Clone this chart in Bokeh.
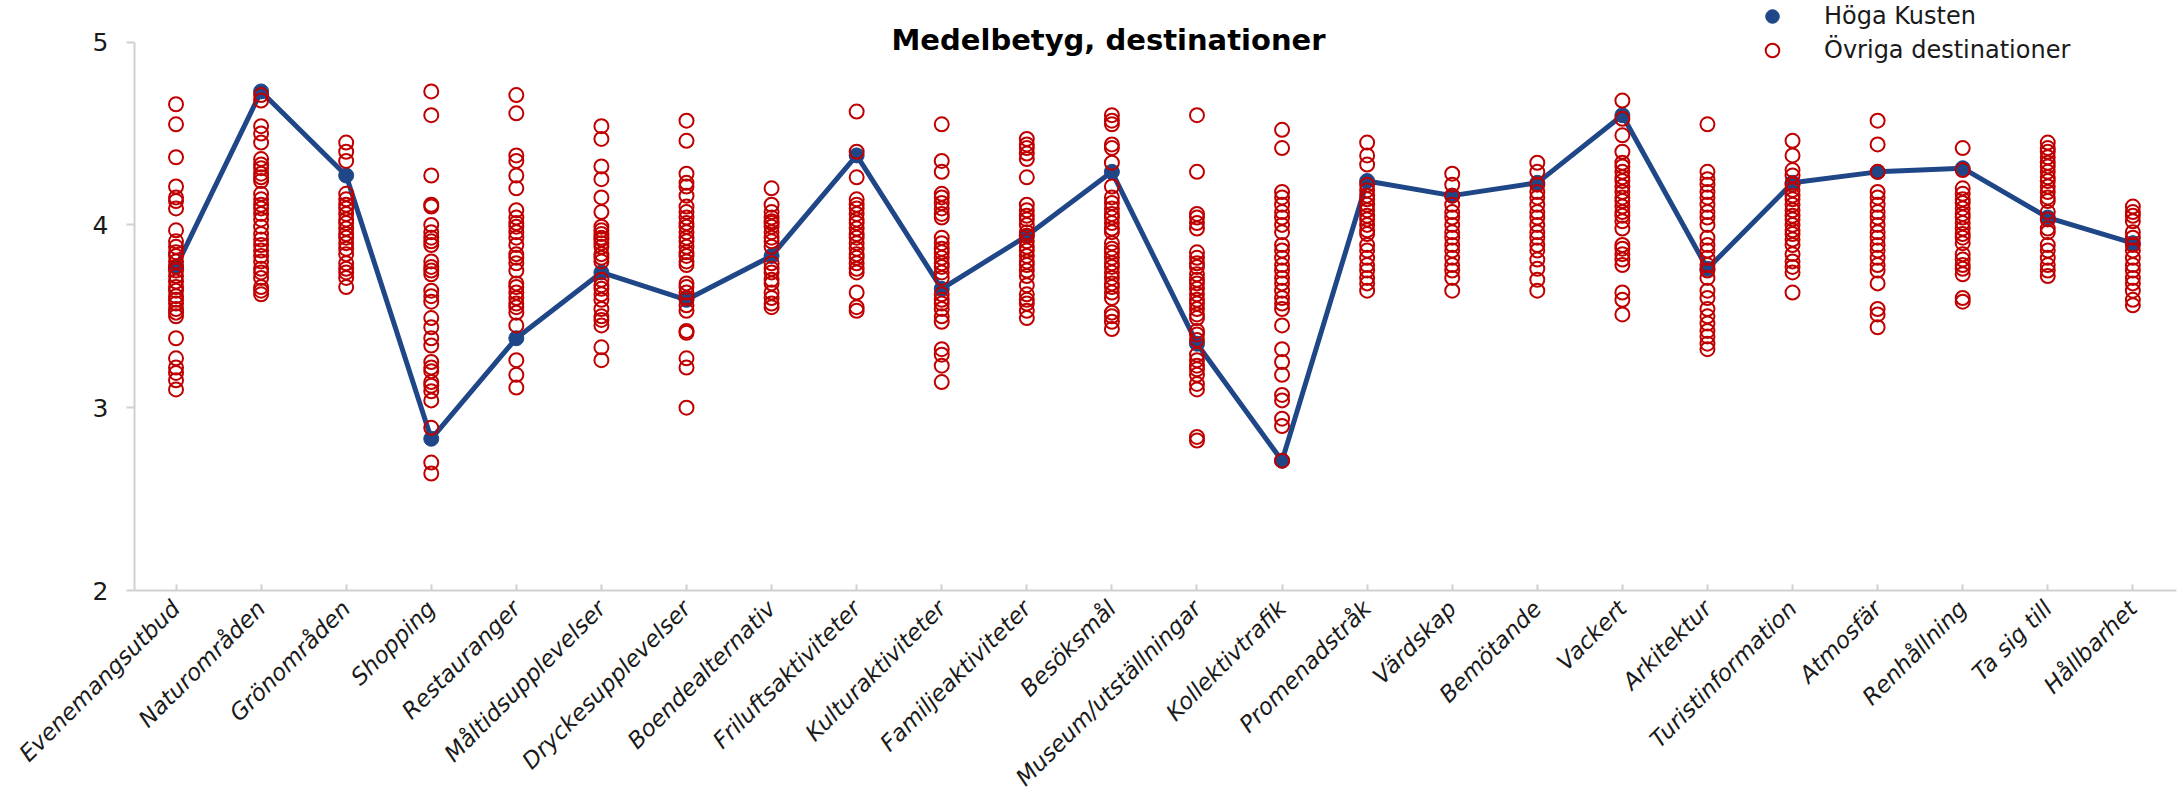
import math
from bokeh.plotting import figure
from bokeh.models import Range1d, FixedTicker, Legend, LegendItem, Label
from bokeh.embed import file_html
from bokeh.resources import INLINE

categories = ["Evenemangsutbud", "Naturområden", "Grönområden", "Shopping", "Restauranger",
              "Måltidsupplevelser", "Dryckesupplevelser", "Boendealternativ", "Friluftsaktiviteter",
              "Kulturaktiviteter", "Familjeaktiviteter", "Besöksmål", "Museum/utställningar",
              "Kollektivtrafik", "Promenadstråk", "Värdskap", "Bemötande", "Vackert", "Arkitektur",
              "Turistinformation", "Atmosfär", "Renhållning", "Ta sig till", "Hållbarhet"]

hoga_kusten = [3.77, 4.73, 4.27, 2.83, 3.38, 3.74, 3.59, 3.83, 4.38, 3.65, 3.94, 4.29,
               3.35, 2.71, 4.24, 4.16, 4.23, 4.60, 3.76, 4.23, 4.29, 4.31, 4.04, 3.90]

ovr_evenemang = [4.66, 4.55, 4.37, 4.21, 4.15, 4.13, 4.09, 3.97, 3.91, 3.88, 3.85, 3.83, 3.80, 3.77, 3.75, 3.72,
                 3.69, 3.66, 3.64, 3.61, 3.59, 3.57, 3.54, 3.52, 3.50, 3.38, 3.27, 3.22, 3.19, 3.15, 3.10]
ovr_natur = [4.71, 4.68, 4.54, 4.50, 4.45, 4.36, 4.33, 4.31, 4.28, 4.26, 4.24, 4.17, 4.14, 4.11, 4.09, 4.06,
             4.03, 3.99, 3.95, 3.92, 3.89, 3.86, 3.83, 3.80, 3.76, 3.74, 3.71, 3.66, 3.64, 3.62]
ovr_gron = [4.45, 4.40, 4.35, 4.17, 4.14, 4.11, 4.09, 4.06, 4.03, 4.01, 3.98, 3.95, 3.93, 3.90, 3.87, 3.84,
            3.79, 3.76, 3.74, 3.71, 3.66]
ovr_shopping = [4.73, 4.60, 4.27, 4.11, 4.10, 4.00, 3.96, 3.93, 3.91, 3.89, 3.80, 3.77, 3.75, 3.73, 3.64, 3.61,
                3.58, 3.49, 3.44, 3.38, 3.34, 3.25, 3.22, 3.20, 3.14, 3.12, 3.09, 3.04, 2.89, 2.70, 2.64]
ovr_restauranger = [4.71, 4.61, 4.38, 4.35, 4.27, 4.20, 4.08, 4.04, 4.01, 3.99, 3.96, 3.93, 3.89, 3.84, 3.82,
                    3.79, 3.75, 3.68, 3.66, 3.63, 3.60, 3.57, 3.55, 3.52, 3.45, 3.26, 3.18, 3.11]
ovr_maltid = [4.54, 4.47, 4.32, 4.25, 4.15, 4.07, 3.99, 3.97, 3.95, 3.93, 3.92, 3.90, 3.88, 3.84, 3.82, 3.80,
              3.70, 3.67, 3.65, 3.62, 3.59, 3.54, 3.50, 3.48, 3.45, 3.33, 3.26]
ovr_dryck = [4.57, 4.46, 4.28, 4.23, 4.21, 4.16, 4.10, 4.07, 4.04, 4.01, 3.99, 3.96, 3.93, 3.91, 3.88, 3.85,
             3.83, 3.80, 3.78, 3.68, 3.66, 3.63, 3.60, 3.56, 3.53, 3.42, 3.41, 3.27, 3.22, 3.00]
ovr_boende = [4.20, 4.11, 4.07, 4.04, 4.02, 4.01, 3.99, 3.96, 3.93, 3.91, 3.88, 3.79, 3.76, 3.74, 3.70, 3.68,
              3.63, 3.60, 3.57, 3.55]
ovr_frilufts = [4.62, 4.40, 4.26, 4.14, 4.11, 4.09, 4.06, 4.03, 4.01, 3.98, 3.95, 3.93, 3.90, 3.87, 3.84,
                3.82, 3.79, 3.76, 3.74, 3.63, 3.55, 3.53]
ovr_kultur = [4.55, 4.35, 4.29, 4.17, 4.15, 4.12, 4.09, 4.06, 4.04, 3.93, 3.90, 3.87, 3.85, 3.82, 3.79, 3.77,
              3.74, 3.71, 3.62, 3.59, 3.57, 3.54, 3.50, 3.47, 3.32, 3.29, 3.23, 3.14]
ovr_familj = [4.47, 4.44, 4.42, 4.39, 4.36, 4.26, 4.11, 4.08, 4.05, 4.03, 4.00, 3.96, 3.94, 3.91, 3.88, 3.86,
              3.83, 3.80, 3.78, 3.75, 3.72, 3.67, 3.62, 3.59, 3.57, 3.53, 3.49]
ovr_besoksmal = [4.60, 4.57, 4.55, 4.44, 4.42, 4.34, 4.21, 4.15, 4.12, 4.09, 4.06, 4.04, 4.01, 3.98, 3.96,
                 3.90, 3.87, 3.85, 3.82, 3.79, 3.77, 3.74, 3.71, 3.68, 3.66, 3.63, 3.60, 3.52, 3.50, 3.47, 3.43]
ovr_museum = [4.60, 4.29, 4.06, 4.04, 4.01, 3.98, 3.85, 3.82, 3.79, 3.77, 3.73, 3.70, 3.68, 3.65, 3.62, 3.59,
              3.57, 3.54, 3.51, 3.49, 3.42, 3.40, 3.37, 3.29, 3.26, 3.23, 3.21, 3.18, 3.13, 3.10, 2.84, 2.82]
ovr_kollektiv = [4.52, 4.42, 4.18, 4.15, 4.11, 4.07, 4.04, 4.00, 3.96, 3.89, 3.86, 3.82, 3.78, 3.75, 3.71,
                 3.68, 3.64, 3.60, 3.57, 3.54, 3.45, 3.32, 3.25, 3.18, 3.07, 3.04, 2.94, 2.90, 2.71]
ovr_promenad = [4.45, 4.38, 4.33, 4.22, 4.19, 4.16, 4.14, 4.11, 4.08, 4.05, 4.03, 4.00, 3.97, 3.95, 3.89,
                3.86, 3.82, 3.78, 3.75, 3.71, 3.68, 3.64]
ovr_vardskap = [4.28, 4.22, 4.16, 4.11, 4.07, 4.04, 4.00, 3.96, 3.93, 3.89, 3.86, 3.82, 3.78, 3.75, 3.71, 3.64]
ovr_bemotande = [4.34, 4.29, 4.22, 4.18, 4.15, 4.11, 4.07, 4.04, 4.00, 3.96, 3.93, 3.89, 3.86, 3.81, 3.76,
                 3.70, 3.64]
ovr_vackert = [4.68, 4.58, 4.49, 4.40, 4.34, 4.32, 4.29, 4.26, 4.24, 4.21, 4.18, 4.15, 4.13, 4.10, 4.07, 4.05,
               4.02, 3.98, 3.89, 3.87, 3.84, 3.81, 3.78, 3.63, 3.59, 3.51]
ovr_arkitektur = [4.55, 4.29, 4.25, 4.22, 4.18, 4.15, 4.11, 4.07, 4.04, 4.00, 3.93, 3.89, 3.86, 3.82, 3.78,
                  3.75, 3.71, 3.64, 3.60, 3.54, 3.50, 3.46, 3.42, 3.39, 3.35, 3.32]
ovr_turist = [4.46, 4.38, 4.30, 4.27, 4.22, 4.19, 4.16, 4.14, 4.11, 4.08, 4.05, 4.03, 4.00, 3.97, 3.95, 3.92,
              3.89, 3.84, 3.80, 3.77, 3.74, 3.63]
ovr_atmosfar = [4.57, 4.44, 4.29, 4.18, 4.15, 4.11, 4.07, 4.04, 4.00, 3.96, 3.93, 3.89, 3.86, 3.82, 3.78,
                3.75, 3.68, 3.54, 3.51, 3.44]
ovr_renhallning = [4.42, 4.30, 4.20, 4.17, 4.14, 4.12, 4.09, 4.06, 4.04, 4.01, 3.98, 3.95, 3.93, 3.90, 3.84,
                   3.81, 3.78, 3.76, 3.73, 3.60, 3.58]
ovr_tasigtill = [4.45, 4.42, 4.40, 4.37, 4.34, 4.32, 4.29, 4.26, 4.24, 4.21, 4.18, 4.15, 4.13, 4.07, 4.03,
                 3.98, 3.96, 3.89, 3.86, 3.82, 3.78, 3.75, 3.72]
ovr_hallbarhet = [4.10, 4.07, 4.05, 4.02, 3.96, 3.93, 3.89, 3.86, 3.82, 3.78, 3.75, 3.71, 3.68, 3.64, 3.59, 3.56]

ovriga = [ovr_evenemang, ovr_natur, ovr_gron, ovr_shopping, ovr_restauranger, ovr_maltid, ovr_dryck,
          ovr_boende, ovr_frilufts, ovr_kultur, ovr_familj, ovr_besoksmal, ovr_museum, ovr_kollektiv,
          ovr_promenad, ovr_vardskap, ovr_bemotande, ovr_vackert, ovr_arkitektur, ovr_turist,
          ovr_atmosfar, ovr_renhallning, ovr_tasigtill, ovr_hallbarhet]

y_ticks = [2, 3, 4, 5]

BLUE = "#1F4788"
RED = "#C00000"
AXIS_GREY = "#D0D0D0"
FONT = "DejaVu Sans"

x_idx = list(range(len(categories)))
ox, oy = [], []
for i, vals in enumerate(ovriga):
    ox.extend([i] * len(vals))
    oy.extend(vals)

p = figure(width=2180, height=802, output_backend="svg", toolbar_location=None,
           x_range=Range1d(-0.488, 23.513), y_range=Range1d(2, 5.2274),
           min_border_left=134, min_border_right=4, min_border_top=0, min_border_bottom=206)

p.grid.visible = False
p.outline_line_color = None
p.background_fill_color = "white"
p.border_fill_color = "white"

# x axis
xa = p.xaxis[0]
xa.ticker = FixedTicker(ticks=x_idx)
xa.major_label_overrides = {i: c for i, c in enumerate(categories)}
xa.major_label_orientation = math.pi / 4
xa.major_label_text_font = FONT
xa.major_label_text_font_style = "italic"
xa.major_label_text_font_size = "23px"
xa.major_label_text_color = "#1a1a1a"
xa.major_label_standoff = 14
xa.major_tick_in = 6
xa.major_tick_out = 0
xa.minor_tick_line_color = None
xa.axis_line_color = AXIS_GREY
xa.axis_line_width = 2
xa.major_tick_line_color = AXIS_GREY
xa.major_tick_line_width = 2

# y axis
ya = p.yaxis[0]
ya.ticker = FixedTicker(ticks=y_ticks)
ya.bounds = (2, 5)
ya.major_label_text_font = FONT
ya.major_label_text_font_size = "25px"
ya.major_label_text_color = "#1a1a1a"
ya.major_label_standoff = 18
ya.major_tick_in = 0
ya.major_tick_out = 8
ya.minor_tick_line_color = None
ya.axis_line_color = AXIS_GREY
ya.axis_line_width = 2
ya.major_tick_line_color = AXIS_GREY
ya.major_tick_line_width = 2

# series
p.line(x_idx, hoga_kusten, line_color=BLUE, line_width=5)
blue_pts = p.scatter(x_idx, hoga_kusten, size=15, fill_color=BLUE, line_color=BLUE)
red_pts = p.scatter(ox, oy, size=14, fill_color=None, line_color=RED, line_width=2)

legend = Legend(items=[LegendItem(label="Höga Kusten", renderers=[blue_pts]),
                       LegendItem(label="Övriga destinationer", renderers=[red_pts])],
                location=(1621, 523), padding=0, margin=0, spacing=0,
                glyph_width=34, glyph_height=34, label_height=34, label_standoff=35,
                label_text_font=FONT, label_text_font_size="24px", label_text_color="#1a1a1a",
                label_text_baseline="middle",
                background_fill_alpha=0, border_line_alpha=0)
p.add_layout(legend)

title = Label(x=974, y=551, x_units="screen", y_units="screen", text="Medelbetyg, destinationer",
              text_align="center", text_baseline="alphabetic", text_font=FONT,
              text_font_style="bold", text_font_size="29px", text_color="black")
p.add_layout(title)

open("out.html", "w").write(file_html(p, INLINE))
